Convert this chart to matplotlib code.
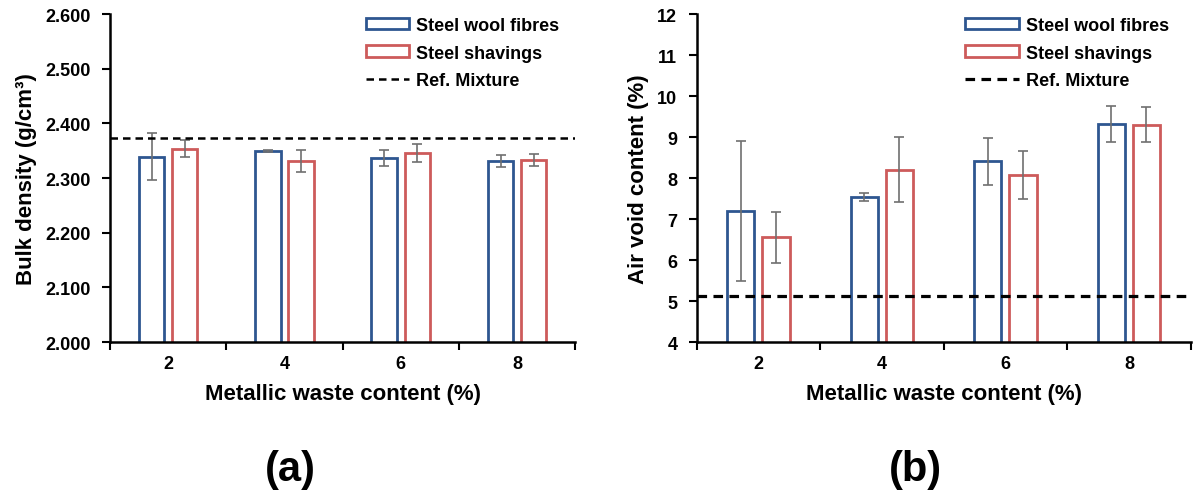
import matplotlib
matplotlib.use("Agg")
from matplotlib import pyplot as plt
import numpy as np

# data
contents = ['2', '4', '6', '8']
density_wool = [2.339, 2.349, 2.337, 2.332]
density_wool_err = [0.043, 0.002, 0.014, 0.011]
density_shav = [2.354, 2.332, 2.346, 2.333]
density_shav_err = [0.015, 0.020, 0.016, 0.011]
density_ref = 2.374

voids_wool = [7.19, 7.54, 8.41, 9.32]
voids_wool_err = [1.71, 0.10, 0.57, 0.43]
voids_shav = [6.56, 8.21, 8.07, 9.30]
voids_shav_err = [0.62, 0.80, 0.58, 0.43]
voids_ref = 5.13

plt.rcParams['font.family'] = ['Liberation Sans', 'DejaVu Sans']
plt.rcParams['font.weight'] = 'bold'

blue = '#2e5690'
red = '#cd5b5b'
x = np.arange(len(contents))
w = 0.22
off = 0.142

fig = plt.figure(figsize=(11.93, 5.02), dpi=100)
ax1 = fig.add_axes([0.0922, 0.3167, 0.39, 0.653])
ax2 = fig.add_axes([0.584, 0.3167, 0.414, 0.653])


def panel(ax, wool, wool_err, shav, shav_err, ref, ylim, yticks, yfmt, ylabel, lw_ref, hl, lx):
    b1 = ax.bar(x - off, wool, w, fill=False, edgecolor=blue, linewidth=2,
                label='Steel wool fibres')
    b2 = ax.bar(x + off, shav, w, fill=False, edgecolor=red, linewidth=2,
                label='Steel shavings')
    ax.errorbar(x - off, wool, yerr=wool_err, fmt='none', ecolor='#707070',
                elinewidth=1.2, capsize=3.5, capthick=1.2)
    ax.errorbar(x + off, shav, yerr=shav_err, fmt='none', ecolor='#707070',
                elinewidth=1.2, capsize=3.5, capthick=1.2)
    ln = ax.axhline(ref, color='black', linestyle='--', linewidth=lw_ref,
                    dashes=(3, 2), label='Ref. Mixture')
    ax.set_xlim(-0.5, len(contents) - 0.5)
    ax.set_ylim(*ylim)
    ax.set_yticks(yticks)
    ax.set_yticklabels([yfmt.format(v) for v in yticks])
    ax.set_xticks(x)
    ax.set_xticklabels(contents)
    ax.set_xticks(np.arange(-0.5, len(contents)), minor=True)
    ax.tick_params(axis='x', which='major', length=0, pad=9, labelsize=13)
    ax.tick_params(axis='x', which='minor', length=6, width=1.5, direction='out')
    ax.tick_params(axis='y', length=6, width=1.5, direction='out', labelsize=13, pad=8)
    for s in ['top', 'right']:
        ax.spines[s].set_visible(False)
    for s in ['left', 'bottom']:
        ax.spines[s].set_linewidth(1.8)
    ax.set_xlabel('Metallic waste content (%)', fontsize=16, fontweight='bold', labelpad=8)
    ax.set_ylabel(ylabel, fontsize=16, fontweight='bold', labelpad=6)
    ax.legend([b1, b2, ln], ['Steel wool fibres', 'Steel shavings', 'Ref. Mixture'],
              loc='upper right', frameon=False, fontsize=13, handlelength=hl,
              handleheight=0.6, labelspacing=0.6, borderaxespad=0.1,
              handletextpad=0.4, bbox_to_anchor=(lx, 1.02))


panel(ax1, density_wool, density_wool_err, density_shav, density_shav_err, density_ref,
      (2.0, 2.6), np.arange(2.0, 2.61, 0.1), '{:.3f}', 'Bulk density (g/cm³)', 1.8, 2.4, 0.985)
panel(ax2, voids_wool, voids_wool_err, voids_shav, voids_shav_err, voids_ref,
      (4, 12), np.arange(4, 13, 1), '{:.0f}', 'Air void content (%)', 2.3, 3.0, 0.975)

fig.text(0.243, 0.063, '(a)', fontsize=30, fontweight='bold', ha='center', va='center')
fig.text(0.767, 0.063, '(b)', fontsize=30, fontweight='bold', ha='center', va='center')

plt.savefig('out.png', dpi=100)
